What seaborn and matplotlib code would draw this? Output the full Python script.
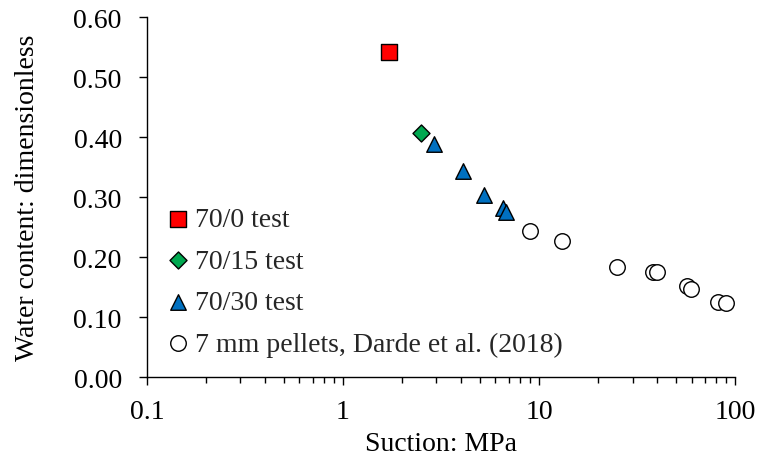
import pandas as pd
import numpy as np
import matplotlib
matplotlib.use('Agg')
import matplotlib.pyplot as plt
import seaborn as sns
from matplotlib.ticker import FixedLocator, FixedFormatter, LogLocator, NullFormatter

# data
series_names = ['70/0 test', '70/15 test', '70/30 test', '7 mm pellets, Darde et al. (2018)']
suction_70_0 = [1.72]
water_70_0 = [0.542]
suction_70_15 = [2.50]
water_70_15 = [0.407]
suction_70_30 = [2.91, 4.10, 5.24, 6.55, 6.79]
water_70_30 = [0.388, 0.343, 0.303, 0.282, 0.275]
suction_pellets = [9.0, 13.1, 25.0, 38.2, 40.0, 56.9, 59.7, 81.9, 90.0]
water_pellets = [0.243, 0.227, 0.183, 0.175, 0.175, 0.152, 0.147, 0.125, 0.123]
x_ticks = [0.1, 1, 10, 100]
x_tick_labels = ['0.1', '1', '10', '100']
y_ticks = [0.0, 0.1, 0.2, 0.3, 0.4, 0.5, 0.6]

frames = []
for name, xs, ys in zip(series_names,
                        [suction_70_0, suction_70_15, suction_70_30, suction_pellets],
                        [water_70_0, water_70_15, water_70_30, water_pellets]):
    frames.append(pd.DataFrame({'suction': xs, 'water': ys, 'series': name}))
df = pd.concat(frames, ignore_index=True)

sns.set_style('ticks')
plt.rcParams['font.family'] = ['Liberation Serif', 'DejaVu Serif']
plt.rcParams['font.size'] = 20

fig = plt.figure(figsize=(7.57, 4.64), dpi=100)
ax = fig.add_axes([0.194, 0.185, 0.777, 0.776])

palette = {series_names[0]: '#FF0000', series_names[1]: '#00A850',
           series_names[2]: '#0070C0', series_names[3]: 'white'}
markers = {series_names[0]: 's', series_names[1]: 'D',
           series_names[2]: '^', series_names[3]: 'o'}
sizes = {series_names[0]: 120, series_names[1]: 75,
         series_names[2]: 125, series_names[3]: 125}

for name in series_names:
    sub = df[df['series'] == name]
    sns.scatterplot(data=sub, x='suction', y='water', ax=ax, color=palette[name],
                    marker=markers[name], s=sizes[name], edgecolor='black',
                    linewidth=1.0, label=name, zorder=3)

ax.set_xscale('log')
ax.set_xlim(0.1, 100)
ax.set_ylim(0, 0.6)
ax.xaxis.set_major_locator(FixedLocator(x_ticks))
ax.xaxis.set_major_formatter(FixedFormatter(x_tick_labels))
ax.xaxis.set_minor_locator(LogLocator(base=10, subs=np.arange(2, 10)))
ax.xaxis.set_minor_formatter(NullFormatter())
ax.set_yticks(y_ticks)
ax.set_yticklabels([f'{v:.2f}' for v in y_ticks])

ax.tick_params(axis='both', which='major', direction='out', length=6, width=1.0,
               color='black', labelsize=20, labelcolor='black')
ax.tick_params(axis='y', which='major', pad=12)
ax.tick_params(axis='x', which='major', pad=10)
ax.tick_params(axis='x', which='minor', direction='out', length=4.5, width=1.0, color='black')
for side in ['left', 'bottom']:
    ax.spines[side].set_color('black')
    ax.spines[side].set_linewidth(1.0)
sns.despine(ax=ax)

ax.set_xlabel('Suction: MPa', fontsize=20, color='black', labelpad=5)
ax.set_ylabel('Water content: dimensionless', fontsize=20, color='black', labelpad=24)

ax.legend(loc='lower left', bbox_to_anchor=(-0.0085, 0.003), frameon=False, fontsize=20,
          handletextpad=0.0, labelspacing=0.58, borderaxespad=0.3, handlelength=1.2)

fig.savefig('out.png', dpi=100)
